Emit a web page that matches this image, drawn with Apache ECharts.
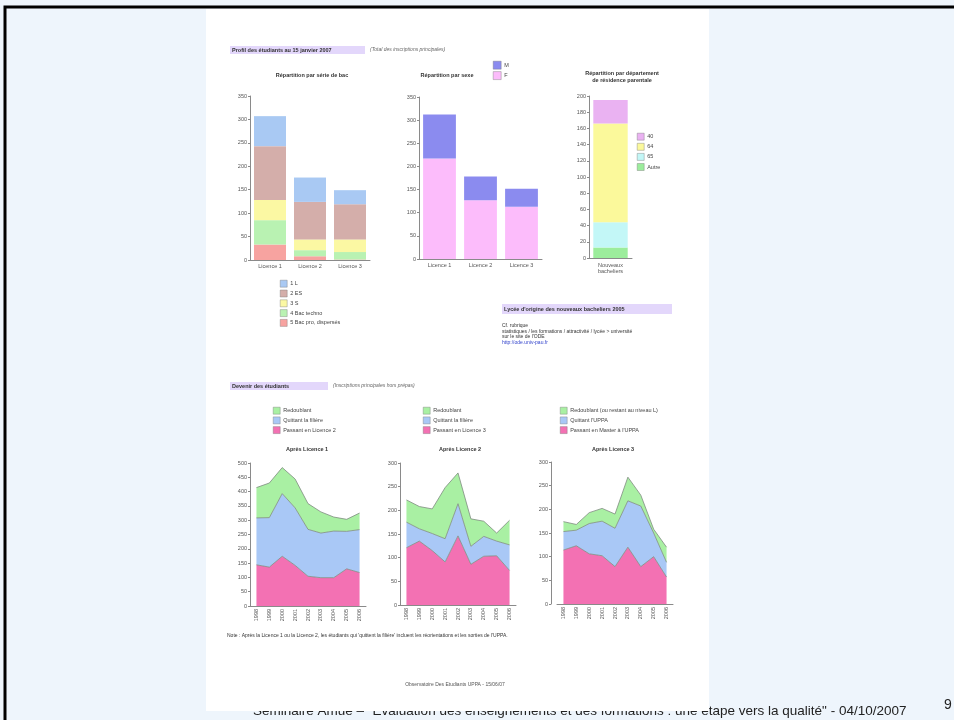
<!DOCTYPE html>
<html>
<head>
<meta charset="utf-8">
<script src="https://cdn.jsdelivr.net/npm/echarts@6/dist/echarts.min.js"></script>
<style>
  html, body { margin: 0; padding: 0; background: #eef5fc; }
  #main { width: 954px; height: 720px; }
</style>
</head>
<body>
<div id="main"></div>
<script>
// ---- données ----
var bacCats = ['Licence 1', 'Licence 2', 'Licence 3'];
var bacL = [64, 52, 30];
var bacES = [115, 80, 75];
var bacS = [43, 23, 27];
var bacTechno = [52, 13, 16];
var bacPro = [33, 8, 1];

var sexeF = [217, 127, 113];
var sexeM = [95, 51, 39];

var deptCats = ['Nouveaux\nbacheliers'];
var dept40 = [29];
var dept64 = [122];
var dept65 = [31];
var deptAutre = [13];

var years = ['1998', '1999', '2000', '2001', '2002', '2003', '2004', '2005', '2006'];
var l1Passant = [144, 136, 174, 142, 104, 99, 99, 130, 117];
var l1Quittant = [164, 173, 219, 201, 164, 156, 163, 131, 150];
var l1Redoublant = [106, 121, 91, 101, 90, 74, 49, 42, 58];
var l2Passant = [121, 135, 115, 91, 146, 86, 103, 104, 73];
var l2Quittant = [54, 26, 36, 49, 68, 38, 42, 31, 54];
var l2Redoublant = [47, 47, 52, 108, 65, 58, 32, 17, 52];
var l3Passant = [114, 123, 106, 102, 79, 120, 79, 100, 57];
var l3Quittant = [39, 33, 64, 73, 81, 98, 128, 50, 31];
var l3Redoublant = [21, 12, 23, 27, 30, 50, 23, 8, 32];

// ---- styles ----
var FONT = 'Liberation Sans';
var axisCol = '#8a8a8a';
var labelCol = '#555';
var fs = 5.5;
var lavande = '#e3d7fb';

function catAxis(grid, data, extra) {
    var a = {
        type: 'category', gridIndex: grid, data: data,
        axisLine: { lineStyle: { color: axisCol, width: 1 } },
        axisTick: { length: 2, lineStyle: { color: axisCol } },
        axisLabel: { fontSize: fs, color: labelCol, fontFamily: FONT, margin: 3 }
    };
    return Object.assign(a, extra || {});
}

function valAxis(grid, max, step, extra) {
    var a = {
        type: 'value', gridIndex: grid, min: 0, max: max, interval: step,
        splitLine: { show: false },
        axisLine: { show: true, lineStyle: { color: axisCol, width: 1 } },
        axisTick: { show: true, length: 2, lineStyle: { color: axisCol } },
        axisLabel: { fontSize: fs, color: labelCol, fontFamily: FONT, margin: 3 }
    };
    return Object.assign(a, extra || {});
}

function bar(name, data, idx, stack, color) {
    return {
        type: 'bar', name: name, data: data, xAxisIndex: idx, yAxisIndex: idx,
        stack: stack, barCategoryGap: '20%', itemStyle: { color: color },
        emphasis: { disabled: true }
    };
}

function area(name, data, idx, stack, color) {
    return {
        type: 'line', name: name, data: data, xAxisIndex: idx, yAxisIndex: idx,
        stack: stack, symbol: 'none', itemStyle: { color: color },
        areaStyle: { color: color, opacity: 1 },
        lineStyle: { color: '#7f8c80', width: 0.8 }, emphasis: { disabled: true }
    };
}

function legend(names, left, top, gap, size) {
    return {
        data: names, orient: 'vertical', left: left, top: top, icon: 'rect',
        itemWidth: size, itemHeight: size, itemGap: gap, padding: 0,
        selectedMode: false,
        itemStyle: { borderColor: '#777', borderWidth: 0.4 },
        lineStyle: { width: 0 },
        textStyle: { fontSize: fs, color: '#444', fontFamily: FONT, padding: [0, 0, 0, -2] }
    };
}

function txt(x, y, s, opt, z) {
    return {
        type: 'text', x: x, y: y, z: z === undefined ? 10 : z,
        style: Object.assign({
            text: s, fontSize: fs, fontFamily: FONT, fill: '#333',
            textAlign: 'left', textVerticalAlign: 'middle'
        }, opt || {})
    };
}

var colL = '#a9c9f3', colES = '#d4aeaa', colS = '#fbf8a3', colTech = '#b9f2b2', colPro = '#f7a3a0';
var colM = '#8b8bef', colF = '#fcbcfb';
var col40 = '#eab2f2', col64 = '#fbf99b', col65 = '#c3f7f7', colAutre = '#9ced9c';
var colPink = '#f371b3', colBlue = '#a9c8f6', colGreen = '#a9f0a3';

var chart = echarts.init(document.getElementById('main'), null, { renderer: 'canvas' });

var option = {
    animation: false,
    backgroundColor: '#eef5fc',
    grid: [
        { left: 250, top: 96, width: 120, height: 164 },
        { left: 419, top: 97, width: 123, height: 162 },
        { left: 589, top: 96, width: 43, height: 162 },
        { left: 250, top: 463, width: 116, height: 143 },
        { left: 400, top: 463, width: 116, height: 142 },
        { left: 557, top: 462, width: 116, height: 142 }
    ],
    xAxis: [
        catAxis(0, bacCats),
        catAxis(1, bacCats),
        catAxis(2, deptCats, { axisLabel: { fontSize: fs, color: labelCol, fontFamily: FONT, margin: 4, lineHeight: 6 } }),
        catAxis(3, years, { axisLabel: { fontSize: fs, color: labelCol, fontFamily: FONT, rotate: 90, margin: 3, interval: 0 } }),
        catAxis(4, years, { axisLabel: { fontSize: fs, color: labelCol, fontFamily: FONT, rotate: 90, margin: 3, interval: 0 } }),
        catAxis(5, years, { axisLabel: { fontSize: fs, color: labelCol, fontFamily: FONT, rotate: 90, margin: 3, interval: 0 } })
    ],
    yAxis: [
        valAxis(0, 350, 50),
        valAxis(1, 350, 50),
        valAxis(2, 200, 20),
        valAxis(3, 500, 50),
        valAxis(4, 300, 50),
        valAxis(5, 300, 50, { offset: 6 })
    ],
    legend: [
        legend(['1 L', '2 ES', '3 S', '4 Bac techno', '5 Bac pro, dispersés'], 280, 280, 2.4, 7),
        legend(['M', 'F'], 493, 61, 2, 8),
        legend(['40', '64', '65', 'Autre'], 637, 133, 2.7, 7),
        legend(['Redoublant', 'Quittant la filière', 'Passant en Licence 2'], 273, 407, 2.3, 7),
        legend(['Redoublant', 'Quittant la filière', 'Passant en Licence 3'], 423, 407, 2.3, 7),
        legend(['Redoublant (ou restant au niveau L)', "Quittant l'UPPA", "Passant en Master à l'UPPA"], 560, 407, 2.3, 7)
    ],
    series: [
        bar('5 Bac pro, dispersés', bacPro, 0, 'bac', colPro),
        bar('4 Bac techno', bacTechno, 0, 'bac', colTech),
        bar('3 S', bacS, 0, 'bac', colS),
        bar('2 ES', bacES, 0, 'bac', colES),
        bar('1 L', bacL, 0, 'bac', colL),

        bar('F', sexeF, 1, 'sexe', colF),
        bar('M', sexeM, 1, 'sexe', colM),

        bar('Autre', deptAutre, 2, 'dept', colAutre),
        bar('65', dept65, 2, 'dept', col65),
        bar('64', dept64, 2, 'dept', col64),
        bar('40', dept40, 2, 'dept', col40),

        area('Passant en Licence 2', l1Passant, 3, 'a1', colPink),
        area('Quittant la filière', l1Quittant, 3, 'a1', colBlue),
        area('Redoublant', l1Redoublant, 3, 'a1', colGreen),

        area('Passant en Licence 3', l2Passant, 4, 'a2', colPink),
        area('Quittant la filière', l2Quittant, 4, 'a2', colBlue),
        area('Redoublant', l2Redoublant, 4, 'a2', colGreen),

        area("Passant en Master à l'UPPA", l3Passant, 5, 'a3', colPink),
        area("Quittant l'UPPA", l3Quittant, 5, 'a3', colBlue),
        area('Redoublant (ou restant au niveau L)', l3Redoublant, 5, 'a3', colGreen)
    ],
    graphic: [
        // cadre de la diapositive
        { type: 'rect', z: -20, shape: { x: 5, y: 7, width: 1000, height: 730 }, style: { fill: '#eef5fc', stroke: '#000', lineWidth: 3 } },
        txt(253, 711, 'Séminaire Amue – "Evaluation des enseignements et des formations : une étape vers la qualité" - 04/10/2007',
            { fontSize: 13.5, fill: '#222' }, -10),
        txt(944, 705, '9', { fontSize: 14, fill: '#222' }, -10),
        // page scannée
        { type: 'rect', z: -5, shape: { x: 206, y: 9, width: 503, height: 702 }, style: { fill: '#ffffff' } },

        // en-têtes
        { type: 'rect', z: 1, shape: { x: 230, y: 46, width: 135, height: 8 }, style: { fill: lavande } },
        txt(232, 50, 'Profil des étudiants au 15 janvier 2007', { fontWeight: 'bold', fill: '#333' }),
        txt(370, 50, '(Total des inscriptions principales)', { fontStyle: 'italic', fill: '#666', fontSize: 5 }),

        txt(312, 75, 'Répartition par série de bac', { fontWeight: 'bold', textAlign: 'center' }),
        txt(447, 75, 'Répartition par sexe', { fontWeight: 'bold', textAlign: 'center' }),
        txt(622, 73, 'Répartition par département', { fontWeight: 'bold', textAlign: 'center' }),
        txt(622, 80, 'de résidence parentale', { fontWeight: 'bold', textAlign: 'center' }),

        { type: 'rect', z: 1, shape: { x: 502, y: 304, width: 170, height: 10 }, style: { fill: lavande } },
        txt(504, 309, "Lycée d'origine des nouveaux bacheliers 2005", { fontWeight: 'bold' }),
        txt(502, 326, 'Cf. rubrique', { fontSize: 5 }),
        txt(502, 331.5, 'statistiques / les formations / attractivité / lycée > université', { fontSize: 5 }),
        txt(502, 337, "sur le site de l'ODE", { fontSize: 5 }),
        txt(502, 342.5, 'http://ode.univ-pau.fr', { fontSize: 5, fill: '#3344cc' }),

        { type: 'rect', z: 1, shape: { x: 230, y: 382, width: 98, height: 8 }, style: { fill: lavande } },
        txt(232, 386, 'Devenir des étudiants', { fontWeight: 'bold' }),
        txt(333, 386, '(Inscriptions principales hors prépas)', { fontStyle: 'italic', fill: '#666', fontSize: 5 }),

        txt(307, 449, 'Après Licence 1', { fontWeight: 'bold', textAlign: 'center' }),
        txt(460, 449, 'Après Licence 2', { fontWeight: 'bold', textAlign: 'center' }),
        txt(613, 449, 'Après Licence 3', { fontWeight: 'bold', textAlign: 'center' }),

        txt(227, 636, "Note : Après la Licence 1 ou la Licence 2, les étudiants qui 'quittent la filière' incluent les réorientations et les sorties de l'UPPA.", { fontSize: 5 }),
        txt(455, 685, 'Observatoire Des Etudiants UPPA - 15/06/07', { fontSize: 5, textAlign: 'center', fill: '#555' })
    ]
};

chart.setOption(option);
</script>
</body>
</html>
